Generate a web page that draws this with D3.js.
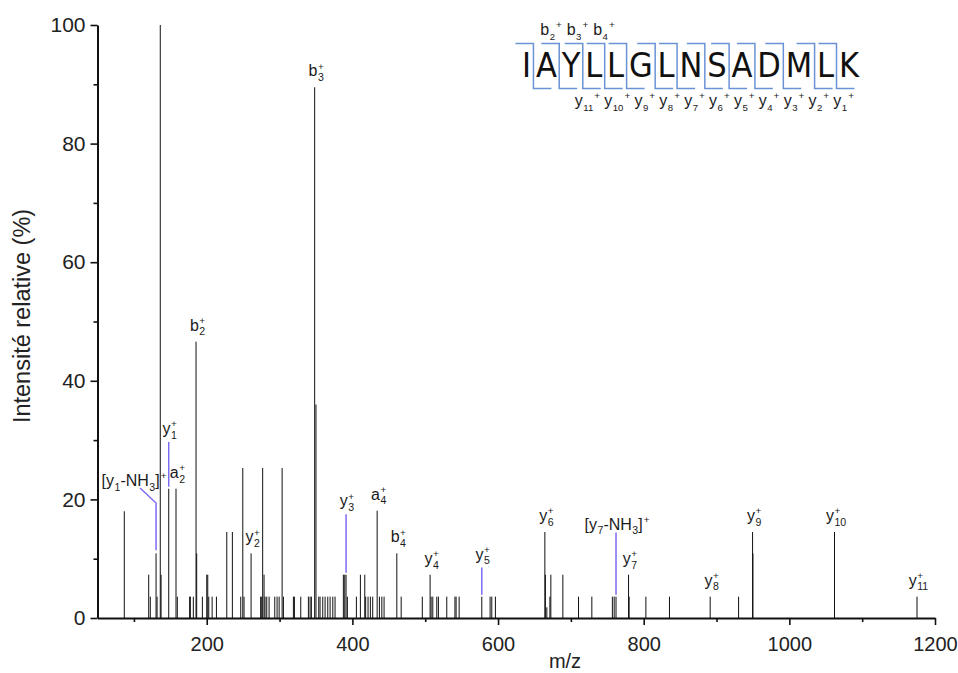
<!DOCTYPE html>
<html><head><meta charset="utf-8">
<script src="https://cdn.jsdelivr.net/npm/d3@7"></script>
<style>body{margin:0;background:#fff}svg{display:block}</style>
</head><body><svg id="chart" width="958" height="673"></svg>
<script>
// ---------------- data ----------------
const xDomain = [50, 1200];
const yDomain = [0, 100];
const xTicks = [200, 400, 600, 800, 1000, 1200];
const xMinorTicks = [100, 300, 500, 700, 900, 1100];
const yTicks = [0, 20, 40, 60, 80, 100];
const yMinorTicks = [10, 30, 50, 70, 90];
const xTitle = "m/z";
const yTitle = "Intensité relative (%)";

const peakMz = [
  86.8, 120.3, 122.5, 131.8, 130.4, 136.2, 137.3, 147.8, 157.8, 159.6,
  176.5, 177.5, 181.6, 185.3, 186.2, 194.0, 200.0, 201.4, 202.8, 207.4,
  213.3, 227.5, 235.2, 246.7, 249.5, 251.2, 260.9, 274.0, 275.5, 276.8,
  278.7, 280.0, 282.4, 285.6, 293.4, 296.6, 299.4, 303.5, 305.3, 319.0,
  320.4, 329.1, 339.6, 341.9, 343.7, 348.2, 350.0, 353.8, 355.6, 359.3,
  362.5, 366.2, 369.4, 373.1, 376.2, 387.6, 389.5, 391.3, 393.1, 405.5,
  411.0, 417.0, 418.2, 421.5, 424.7, 427.9, 434.0, 437.1, 440.4, 443.5,
  461.0, 467.0, 496.0, 506.7, 508.1, 510.4, 515.9, 518.1, 529.6, 540.8,
  542.4, 546.6, 577.7, 589.1, 591.4, 596.4, 664.3, 665.0, 667.0, 671.2,
  672.5, 689.0, 710.5, 728.8, 757.0, 759.5, 762.0, 779.2, 780.0, 803.0,
  835.4, 891.3, 930.3, 949.5, 950.0, 1062.0, 1175.3
];
const peakIntensity = [
  18.0, 7.3, 3.6, 3.6, 10.9, 100, 7.3, 21.8, 21.8, 3.6,
  3.6, 3.6, 3.6, 46.6, 10.9, 3.6, 7.3, 7.3, 3.6, 3.6,
  3.6, 14.5, 14.5, 3.6, 25.3, 3.6, 10.9, 3.6, 3.6, 25.3,
  7.3, 3.6, 3.6, 3.6, 3.6, 3.6, 3.6, 25.3, 3.6, 3.6,
  3.6, 3.6, 3.6, 3.6, 3.6, 89.5, 36.0, 3.6, 3.6, 3.6,
  3.6, 3.6, 3.6, 3.6, 3.6, 7.3, 7.3, 7.3, 3.6, 3.6,
  7.3, 7.3, 3.6, 3.6, 3.6, 3.6, 18.1, 3.6, 3.6, 3.6,
  10.9, 3.6, 3.6, 7.3, 3.6, 3.6, 3.6, 3.6, 3.6, 3.6,
  3.6, 3.6, 3.6, 3.6, 3.6, 3.6, 14.5, 7.3, 1.8, 3.6,
  7.3, 7.3, 3.6, 3.6, 3.6, 3.6, 3.6, 7.3, 3.6, 3.6,
  3.6, 3.6, 3.6, 14.5, 10.9, 14.5, 3.6
];

// annotated ions: label markup, m/z, peak intensity, top of connector (null = none)
const annLabels = ["b_{3}^{+}", "b_{2}^{+}", "y_{1}^{+}", "a_{2}^{+}", "[y_{1}-NH_{3}]^{+}",
  "y_{2}^{+}", "y_{3}^{+}", "a_{4}^{+}", "b_{4}^{+}", "y_{4}^{+}", "y_{5}^{+}", "y_{6}^{+}",
  "[y_{7}-NH_{3}]^{+}", "y_{7}^{+}", "y_{8}^{+}", "y_{9}^{+}", "y_{10}^{+}", "y_{11}^{+}"];
const annMz = [348.2, 185.3, 147.8, 157.8, 130.4, 260.9, 391.3, 434.0, 461.0, 506.7, 577.7,
  664.3, 762.0, 779.2, 891.3, 949.5, 1062.0, 1175.3];
const annPeak = [89.5, 46.6, 21.8, 21.8, 10.9, 10.9, 7.3, 18.1, 10.9, 7.3, 3.6, 14.5, 3.6,
  7.3, 3.6, 14.5, 14.5, 3.6];
const annLineTop = [null, null, 29.7, null, 19.4, null, 17.5, null, null, null, 8.5, null,
  14.4, null, null, null, null, null];

// peptide sequence & fragment coverage
const sequence = "IAYLLGLNSADMLK";
const bIons = [2, 3, 4];
const yIons = [11, 10, 9, 8, 7, 6, 5, 4, 3, 2, 1];

// ---------------- drawing ----------------
const FONT = "'Liberation Sans', Arial, Helvetica, sans-serif";
const TXT = "#1a1a1a";
const CONN = "#7c6cf2";
const SEQC = "#6a93d6";
const svg = d3.select("#chart").attr("font-family", FONT);

const x = d3.scaleLinear().domain(xDomain).range([97.5, 935]);
const y = d3.scaleLinear().domain(yDomain).range([618, 25]);

// peaks
svg.append("g").selectAll("line").data(d3.range(peakMz.length)).join("line")
  .attr("x1", i => x(peakMz[i])).attr("x2", i => x(peakMz[i]))
  .attr("y1", y(0)).attr("y2", i => y(peakIntensity[i]))
  .attr("stroke", "#111").attr("stroke-width", 1);

// axes
function styleAxis(g, fs) {
  g.selectAll(".domain").attr("stroke", "#111").attr("stroke-width", 2);
  g.selectAll(".tick line").attr("stroke", "#111").attr("stroke-width", 1.6);
  g.selectAll(".tick text").attr("font-size", fs).attr("fill", "#222").attr("font-family", FONT);
}
const fmt = d3.format("d");
const gx = svg.append("g").attr("transform", `translate(0,${y(0)})`)
  .call(d3.axisBottom(x).tickValues(xTicks).tickFormat(fmt).tickSize(7).tickPadding(12).tickSizeOuter(0));
styleAxis(gx, 20);
const gxm = svg.append("g").attr("transform", `translate(0,${y(0)})`)
  .call(d3.axisBottom(x).tickValues(xMinorTicks).tickSize(4).tickFormat("").tickSizeOuter(0));
styleAxis(gxm, 20); gxm.select(".domain").remove();

const gy = svg.append("g").attr("transform", `translate(${x(xDomain[0])},0)`)
  .call(d3.axisLeft(y).tickValues(yTicks).tickFormat(fmt).tickSize(7).tickPadding(5).tickSizeOuter(0));
styleAxis(gy, 21);
const gym = svg.append("g").attr("transform", `translate(${x(xDomain[0])},0)`)
  .call(d3.axisLeft(y).tickValues(yMinorTicks).tickSize(4).tickFormat("").tickSizeOuter(0));
styleAxis(gym, 21); gym.select(".domain").remove();

svg.append("text").attr("x", 565).attr("y", 668).attr("text-anchor", "middle")
  .attr("font-size", 20).attr("fill", "#222").text(xTitle);
svg.append("text").attr("transform", "translate(30,316) rotate(-90)").attr("text-anchor", "middle")
  .attr("font-size", 23.5).attr("fill", "#222").text(yTitle);

// rich label: "a_{2}^{+}" ; sub followed by sup are stacked when stack=true
function parseMarkup(s) {
  const out = []; let i = 0;
  while (i < s.length) {
    if ((s[i] === "_" || s[i] === "^") && s[i + 1] === "{") {
      const end = s.indexOf("}", i);
      out.push({ k: s[i] === "_" ? "sub" : "sup", t: s.slice(i + 2, end) });
      i = end + 1;
    } else {
      let j = i;
      while (j < s.length && !((s[j] === "_" || s[j] === "^") && s[j + 1] === "{")) j++;
      out.push({ k: "n", t: s.slice(i, j) }); i = j;
    }
  }
  return out;
}
// builds the label at origin; returns {g, w}
function buildLabel(parent, markup, fs, stack = true, subR = 0.66) {
  const g = parent.append("g").attr("fill", TXT);
  const parts = parseMarkup(markup);
  let pos = 0;
  for (let p = 0; p < parts.length; p++) {
    const part = parts[p];
    if (part.k === "n") {
      const t = g.append("text").attr("x", pos).attr("y", 0).attr("font-size", fs).text(part.t);
      pos += t.node().getComputedTextLength();
    } else if (part.k === "sub") {
      const t = g.append("text").attr("x", pos + 0.5).attr("y", fs * 0.3).attr("font-size", fs * subR).text(part.t);
      let w = t.node().getComputedTextLength();
      if (stack && parts[p + 1] && parts[p + 1].k === "sup") {
        const s = g.append("text").attr("x", pos + 0.5).attr("y", -fs * 0.42).attr("font-size", fs * 0.62).text(parts[p + 1].t);
        w = Math.max(w, s.node().getComputedTextLength());
        p++;
      }
      pos += w + 0.5;
    } else {
      const t = g.append("text").attr("x", pos + 1).attr("y", -fs * 0.42).attr("font-size", fs * 0.62).text(part.t);
      pos += t.node().getComputedTextLength() + 1;
    }
  }
  return { g, w: pos };
}
function richLabel(parent, markup, fs, cx, baseline, stack = true) {
  const L = buildLabel(parent, markup, fs, stack);
  L.g.attr("transform", `translate(${cx - L.w / 2},${baseline})`);
  return L.g;
}
// a run of labels laid out left to right between x0 and x1
function labelRun(parent, markups, fs, x0, x1, baseline) {
  const Ls = markups.map(m => buildLabel(parent, m, fs, false, 0.6));
  const gap = (x1 - x0 - d3.sum(Ls, l => l.w)) / Math.max(1, Ls.length - 1);
  let pos = x0;
  Ls.forEach(l => { l.g.attr("transform", `translate(${pos},${baseline})`); pos += l.w + gap; });
}

// annotations
const annG = svg.append("g");
annLabels.forEach((lab, i) => {
  const px = x(annMz[i]);
  const peakTop = y(annPeak[i]);
  if (annLineTop[i] !== null) {
    const top = y(annLineTop[i]);
    if (lab.startsWith("[y_{1}")) {
      const kx = px - 16, ky = top - 15;
      annG.append("polyline").attr("points", `${px},${peakTop - 3} ${px},${top} ${kx},${ky}`)
        .attr("fill", "none").attr("stroke", CONN).attr("stroke-width", 1.5);
      richLabel(annG, lab, 16, kx - 6, ky - 2);
    } else {
      annG.append("line").attr("x1", px).attr("x2", px).attr("y1", peakTop - 2).attr("y2", top)
        .attr("stroke", CONN).attr("stroke-width", 1.5);
      const gap = lab.startsWith("[") ? 3 : 8;
      richLabel(annG, lab, 16, px + 1, top - gap);
    }
  } else {
    richLabel(annG, lab, 16, px + 1.5, peakTop - 11);
  }
});

// peptide sequence with fragment marks
const seqG = svg.append("g");
const seqLeft = 522, seqRight = 859, seqBase = 77, seqFs = 34;
const letters = sequence.split("").map(ch =>
  seqG.append("text").attr("y", seqBase).attr("font-size", seqFs)
    .attr("font-family", "'Liberation Sans Narrow', 'DejaVu Sans Condensed', " + FONT)
    .attr("fill", "#111").text(ch));
const widths = letters.map(t => t.node().getComputedTextLength());
const gapW = (seqRight - seqLeft - d3.sum(widths)) / (sequence.length - 1);
const lefts = [];
let acc = seqLeft;
letters.forEach((t, i) => { lefts.push(acc); t.attr("x", acc); acc += widths[i] + gapW; });
const cuts = d3.range(sequence.length - 1).map(i => lefts[i + 1] - gapW / 2);
const yTopLine = 43.5, yBotLine = 88.5, flag = 18;
cuts.forEach(cx => {
  seqG.append("path").attr("d", `M${cx - flag},${yTopLine} H${cx} V${yBotLine} H${cx + flag}`)
    .attr("fill", "none").attr("stroke", SEQC).attr("stroke-width", 1.5);
});
// fragment labels: b ions start just left of their cleavage, y ions run under the C-terminal part
const b0 = cuts[bIons[0] - 1] - 19, b1 = cuts[bIons[bIons.length - 1] - 1] + 10;
labelRun(seqG, bIons.map(n => `b_{${n}}^{+}`), 16, b0, b1, 35);
const y0 = cuts[sequence.length - 1 - yIons[0]] - 8, y1 = seqRight - 5;
labelRun(seqG, yIons.map(n => `y_{${n}}^{+}`), 16, y0, y1, 106);
</script></body></html>
